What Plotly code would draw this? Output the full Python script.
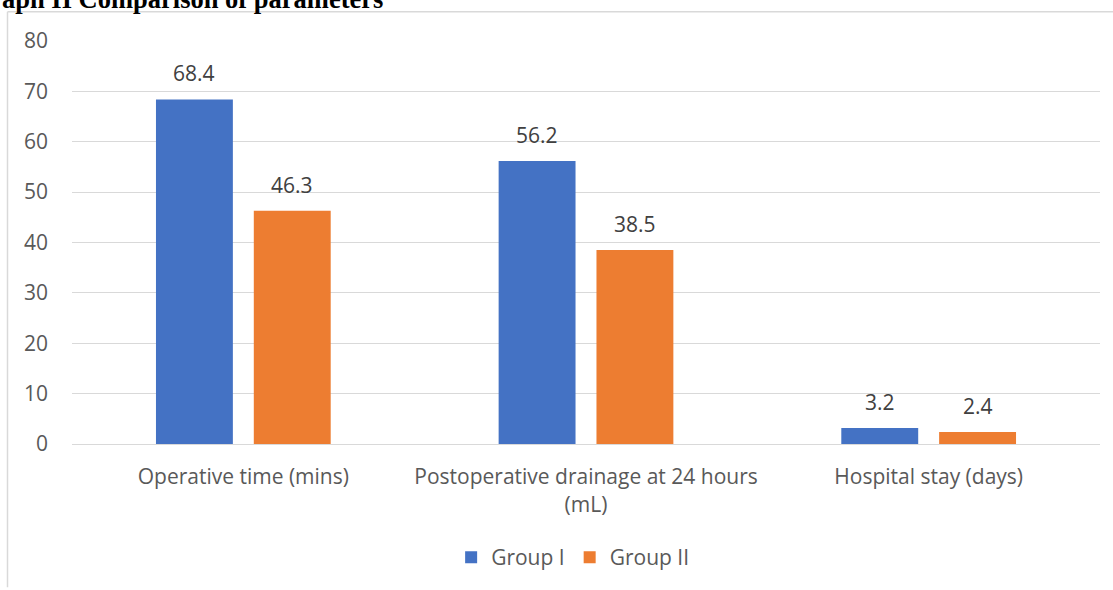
import plotly.graph_objects as go

categories = ["Operative time (mins)", "Postoperative drainage at 24 hours<br>(mL)", "Hospital stay (days)"]
group1 = [68.4, 56.2, 3.2]
group2 = [46.3, 38.5, 2.4]
series_names = ["Group I", "Group II"]
colors = ["#4472C4", "#ED7D31"]
yticks = [0, 10, 20, 30, 40, 50, 60, 70, 80]

W, H = 1113, 590
L, R, T, B = 72, 13, 41, 141
pw, ph = W - L - R, H - T - B

fig = go.Figure()
for name, vals, c in zip(series_names, [group1, group2], colors):
    fig.add_trace(go.Bar(x=categories, y=vals, name=name, marker_color=c, marker_line_width=0))

font = "Open Sans"
FS = 21
# data labels
for i, vals in enumerate([group1, group2]):
    for cat, v in zip(categories, vals):
        fig.add_annotation(x=cat, y=v, text=f"{v}", showarrow=False, xref="x", yref="y",
                           xshift=(-49 if i == 0 else 49), yanchor="bottom", yshift=10,
                           font=dict(family=font, size=FS, color="#404040"))

# title (cropped at top in reference)
fig.add_annotation(x=(0 - L) / pw, y=(H - B - 16) / ph, xref="paper", yref="paper",
                   text="<b>aph II Comparison of parameters</b>", showarrow=False,
                   xanchor="left", yanchor="bottom",
                   font=dict(family="Liberation Serif", size=26.5, color="black"))

# chart border lines
bx = (7.5 - L) / pw
by = (H - B - 11.5) / ph
fig.add_shape(type="line", xref="paper", yref="paper", x0=bx, x1=bx, y0=by, y1=-B / ph - 0.01,
              line=dict(color="#d9d9d9", width=1.5))
fig.add_shape(type="line", xref="paper", yref="paper", x0=bx, x1=(W - L) / pw + 0.01, y0=by, y1=by,
              line=dict(color="#d9d9d9", width=1.5))

fig.update_layout(
    width=W, height=H,
    margin=dict(l=L, r=R, t=T, b=B),
    paper_bgcolor="white", plot_bgcolor="white",
    barmode="group", bargap=0.429, bargroupgap=0.214,
    font=dict(family=font, size=FS, color="#595959"),
    legend=dict(orientation="h", x=0.487, xanchor="center", y=(H - B - 564) / ph, yanchor="middle",
                font=dict(size=FS, color="#595959"), traceorder="normal", itemwidth=30),
    showlegend=True,
)
fig.update_yaxes(range=[0, 80], tickvals=yticks, showgrid=True, gridcolor="#d9d9d9", gridwidth=1,
                 zeroline=False, showline=False, ticks="", ticklabelstandoff=23,
                 tickfont=dict(size=FS, color="#595959"))
fig.update_xaxes(showline=True, linecolor="#d9d9d9", linewidth=1, ticks="", ticklabelstandoff=14,
                 tickfont=dict(size=FS, color="#595959"))

fig.write_html("out.html", config={"displayModeBar": False},
               post_script="document.body.style.margin='0';")
